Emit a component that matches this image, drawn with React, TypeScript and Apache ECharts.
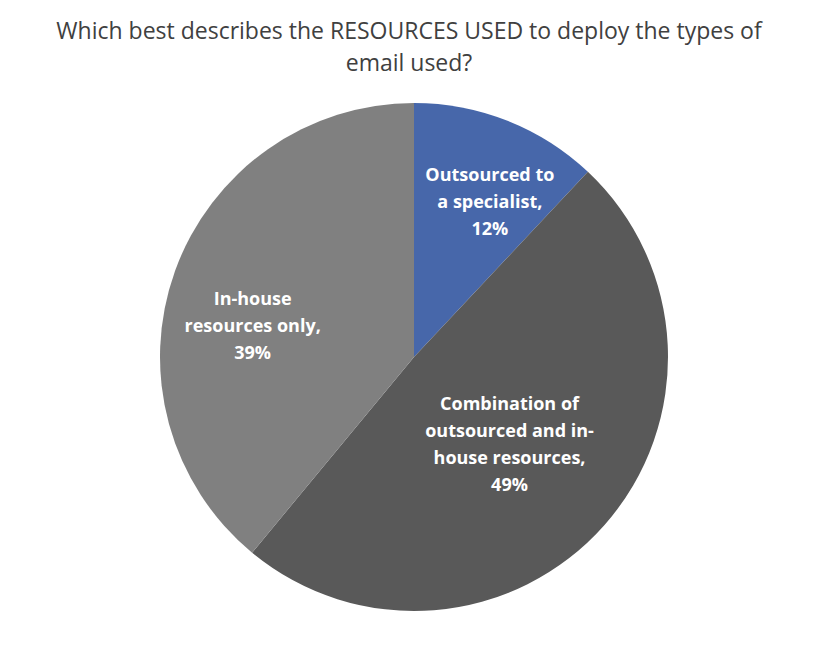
import { useEffect, useRef } from "react";
import * as echarts from "echarts";

const titleLines = [
  "Which best describes the RESOURCES USED to deploy the types of",
  "email used?",
];
const categories = [
  "Outsourced to\na specialist,",
  "Combination of\noutsourced and in-\nhouse resources,",
  "In-house\nresources only,",
];
const shares = [12, 49, 39];
const colors = ["#4767aa", "#595959", "#808080"];
const labelOffsets: [number, number][] = [
  [28, -35],
  [-2, 1],
  [-39, 12],
];

export default function App() {
  const chartRef = useRef<HTMLDivElement>(null);

  useEffect(() => {
    if (!chartRef.current) return;
    const chart = echarts.init(chartRef.current, null, { renderer: "svg" });

    const option: echarts.EChartsOption = {
      animation: false,
      backgroundColor: "#ffffff",
      title: {
        text: titleLines.join("\n"),
        left: "center",
        top: 9,
        textStyle: {
          fontFamily: "Open Sans",
          fontSize: 23,
          fontWeight: "normal",
          color: "#404040",
          lineHeight: 32,
        },
      },
      series: [
        {
          type: "pie",
          center: [414, 357],
          radius: 254,
          startAngle: 90,
          clockwise: true,
          data: shares.map((v, i) => ({
            name: categories[i],
            value: v,
            itemStyle: { color: colors[i] },
            label: { offset: labelOffsets[i] },
          })),
          label: {
            show: true,
            position: "inside",
            formatter: (p: any) => `${p.name}\n${p.value}%`,
            color: "#ffffff",
            fontFamily: "Open Sans",
            fontWeight: "bold",
            fontSize: 18,
            lineHeight: 27,
            align: "center",
          },
          labelLine: { show: false },
          emphasis: { disabled: true },
        },
      ],
    };

    chart.setOption(option);
    return () => {
      chart.dispose();
    };
  }, []);

  return (
    <div
      ref={chartRef}
      style={{ position: "fixed", left: 0, top: 0, width: 818, height: 646 }}
    />
  );
}
